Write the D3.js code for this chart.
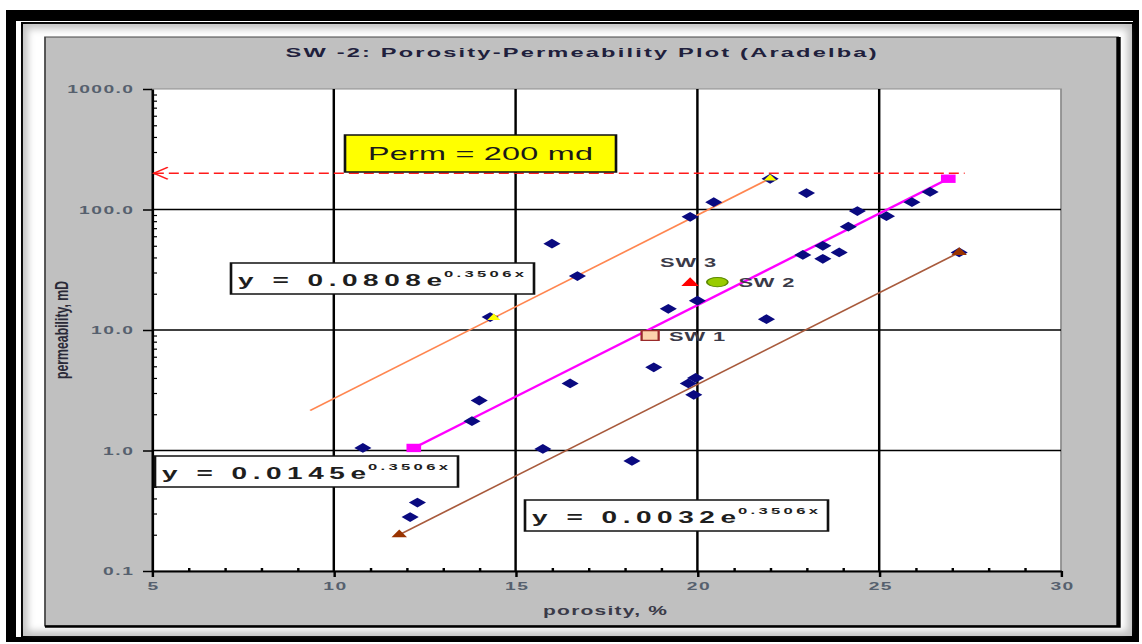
<!DOCTYPE html>
<html>
<head>
<meta charset="utf-8">
<script src="https://cdn.jsdelivr.net/npm/d3@7"></script>
<style>
  html, body { margin: 0; padding: 0; background: #fff; overflow: hidden; }
  svg { display: block; }
  text { font-family: Arial, "Liberation Sans", sans-serif; }
</style>
</head>
<body>
<div id="chart"></div>
<script>
// ---- values ----
const chartTitle = "SW -2: Porosity-Permeability Plot (Aradelba)";
const xTitle = "porosity, %";
const yTitle = "permeability, mD";
const xTicks = [5, 10, 15, 20, 25, 30];
const yTicks = [0.1, 1, 10, 100, 1000];

// core data (blue diamonds)
const porosity = [10.8, 12.1, 12.3, 13.8, 14.0, 14.3, 15.75, 16.0, 16.5, 16.7,
  18.2, 18.8, 19.2, 19.75, 19.8, 19.9, 19.95, 20.0, 20.45, 21.9,
  22.0, 22.9, 23.0, 23.45, 23.45, 23.9, 24.15, 24.4, 25.2, 25.9, 26.4, 27.2];
const permeability = [1.05, 0.28, 0.37, 1.75, 2.6, 12.8, 1.03, 52, 3.6, 28,
  0.82, 4.9, 15, 3.6, 87, 2.9, 4.0, 17.5, 115, 12.3,
  180, 42, 137, 50, 39, 44, 72, 97, 88, 115, 140, 44];

// upper (orange) trend: fitted line and its two yellow points
const upperLineX = [9.35, 22.0];
const upperLineY = [2.15, 181];
const upperPointX = [14.4, 22.0];
const upperPointY = [12.6, 181];
// middle (magenta) line
const midX = [12.2, 26.9];
const midY = [1.05, 180];
// lower (brown) line
const lowX = [11.8, 27.2];
const lowY = [0.2, 44];

const eqCoef = ["0.0808", "0.0145", "0.0032"];
const eqExp = "0.3506x";

// the three wells
const wellNames = ["SW 1", "SW 2", "SW 3"];
const wellX = [18.7, 20.55, 19.8];
const wellY = [9.0, 25, 24.5];

// permeability cut-off
const permCut = 200;
const permLineX = [5.05, 27.35];
const permLabel = "Perm = 200 md";

// ---- layout ----
const W = 1142, H = 644, S = 1.75;   // picture is stretched sideways
const ux = (px) => px / S;

const svg = d3.select("#chart").append("svg")
  .attr("width", W).attr("height", H)
  .attr("viewBox", `0 0 ${W / S} ${H}`)
  .attr("preserveAspectRatio", "none");

const defs = svg.append("defs");
defs.append("filter").attr("id", "soft")
  .append("feGaussianBlur").attr("stdDeviation", "2 3.5");

const box = (x0, y0, x1, y1) => svg.append("rect")
  .attr("x", ux(x0)).attr("y", y0)
  .attr("width", ux(x1 - x0)).attr("height", y1 - y0);

const fit = (sel, w) => sel.attr("textLength", ux(w)).attr("lengthAdjust", "spacing");
const spread = (sel, f) => sel.each(function () {
  d3.select(this).attr("textLength", this.getComputedTextLength() * f)
    .attr("lengthAdjust", "spacing");
});

// frame
box(6, 10, 1139, 642).attr("fill", "#000");
box(16, 21, 1133, 637).attr("fill", "#fff");
box(21, 22, 1133, 637).attr("fill", "#000");
box(23, 24, 1132, 636).attr("fill", "#c4c4c4");
box(28, 29, 1127, 631).attr("fill", "#fff").attr("filter", "url(#soft)");

// chart area
box(45, 37, 1118, 626).attr("fill", "#c0c0c0").attr("stroke", "#444").attr("stroke-width", 1);
svg.append("path")
  .attr("d", `M${ux(1118.5)},37V626.5H${ux(45)}`)
  .attr("fill", "none").attr("stroke", "#000").attr("stroke-width", 2.5);

// plot area
const x = d3.scaleLinear().domain([5, 30]).range([ux(152), ux(1061)]);
const y = d3.scaleLog().domain([0.1, 1000]).range([571, 89]);

svg.append("rect")
  .attr("x", x(5)).attr("y", y(1000))
  .attr("width", x(30) - x(5)).attr("height", y(0.1) - y(1000))
  .attr("fill", "#fff").attr("stroke", "#8c8c8c").attr("stroke-width", 1);

// gridlines
svg.append("g").selectAll("line")
  .data(xTicks.filter((d) => d > 5 && d < 30))
  .join("line")
  .attr("x1", (d) => x(d)).attr("x2", (d) => x(d))
  .attr("y1", y(1000)).attr("y2", y(0.1))
  .attr("stroke", "#000").attr("stroke-width", 1.4);
svg.append("g").selectAll("line")
  .data(yTicks.filter((d) => d > 0.1 && d < 1000))
  .join("line")
  .attr("x1", x(5)).attr("x2", x(30))
  .attr("y1", (d) => y(d)).attr("y2", (d) => y(d))
  .attr("stroke", "#000").attr("stroke-width", 1.6);

// title
fit(svg.append("text")
  .attr("x", ux(581)).attr("y", 57)
  .attr("text-anchor", "middle")
  .attr("font-size", 13.5).attr("font-weight", "bold")
  .attr("fill", "#20203c")
  .text(chartTitle), 591);

// axes
const tickColor = "#56606e";
const yAxis = d3.axisLeft(y).tickValues(yTicks).tickFormat(d3.format(".1f"))
  .tickSize(ux(9)).tickPadding(ux(10)).tickSizeOuter(0);
const gy = svg.append("g").attr("transform", `translate(${x(5)},0)`).call(yAxis);
gy.attr("font-family", null).attr("font-size", 11).attr("font-weight", "bold");
gy.select(".domain").attr("stroke-width", 1.4);
gy.selectAll(".tick line").attr("stroke-width", 1.5);
gy.selectAll(".tick text").attr("fill", tickColor).call(spread, 1.12);

const yMinor = y.ticks().filter((d) => !yTicks.includes(d));
const gy2 = svg.append("g").attr("transform", `translate(${x(5)},0)`)
  .call(d3.axisRight(y).tickValues(yMinor).tickSize(ux(5)).tickFormat(""));
gy2.select(".domain").remove();
gy2.selectAll(".tick line").attr("stroke-width", 1.2);

const xAxis = d3.axisBottom(x).tickValues(xTicks).tickFormat(d3.format("d"))
  .tickSize(6).tickPadding(5).tickSizeOuter(0);
const gx = svg.append("g").attr("transform", `translate(0,${y(0.1)})`).call(xAxis);
gx.attr("font-family", null).attr("font-size", 11).attr("font-weight", "bold");
gx.select(".domain").attr("stroke-width", 2);
gx.selectAll(".tick line").attr("stroke-width", 1.4);
gx.selectAll(".tick text").attr("fill", tickColor).call(spread, 1.07);

const xMinor = x.ticks(25).filter((d) => !xTicks.includes(d));
const gx2 = svg.append("g").attr("transform", `translate(0,${y(0.1)})`)
  .call(d3.axisTop(x).tickValues(xMinor).tickSize(3).tickFormat(""));
gx2.select(".domain").remove();
gx2.selectAll(".tick line").attr("stroke-width", 1.4);

// axis titles
fit(svg.append("text")
  .attr("x", ux(605)).attr("y", 615)
  .attr("text-anchor", "middle")
  .attr("font-size", 12).attr("font-weight", "bold")
  .attr("fill", "#3a3a48")
  .text(xTitle), 124);
svg.append("text")
  .attr("transform", `translate(${ux(68)},${330}) rotate(-90)`)
  .attr("text-anchor", "middle")
  .attr("font-size", 10).attr("font-weight", "bold")
  .attr("fill", "#2a2a38")
  .attr("textLength", 98).attr("lengthAdjust", "spacingAndGlyphs")
  .text(yTitle);

// perm = 200 cut-off
svg.append("line")
  .attr("x1", x(permLineX[0])).attr("x2", x(permLineX[1]))
  .attr("y1", y(permCut)).attr("y2", y(permCut))
  .attr("stroke", "#ff1a1a").attr("stroke-width", 1.5)
  .attr("stroke-dasharray", `${ux(10)},${ux(5)}`);
svg.append("path")
  .attr("d", `M${x(permLineX[0]) + ux(14)},${y(permCut) - 6}L${x(permLineX[0])},${y(permCut)}L${x(permLineX[0]) + ux(14)},${y(permCut) + 6}`)
  .attr("fill", "none").attr("stroke", "#ff1a1a").attr("stroke-width", 1.3);

// trend lines
const line = d3.line().x((d) => x(d[0])).y((d) => y(d[1]));
svg.append("path").datum(d3.zip(upperLineX, upperLineY)).attr("d", line)
  .attr("fill", "none").attr("stroke", "#ff8650").attr("stroke-width", 1.4);
svg.append("path").datum(d3.zip(midX, midY)).attr("d", line)
  .attr("fill", "none").attr("stroke", "#ff00ff").attr("stroke-width", 2);
svg.append("path").datum(d3.zip(lowX, lowY)).attr("d", line)
  .attr("fill", "none").attr("stroke", "#a85a3c").attr("stroke-width", 1.4);

// core points
const diamond = d3.symbol(d3.symbolSquare, 48)();
svg.append("g").selectAll("path")
  .data(d3.zip(porosity, permeability))
  .join("path")
  .attr("d", diamond)
  .attr("transform", (d) => `translate(${x(d[0])},${y(d[1])}) rotate(45)`)
  .attr("fill", "#0a0a80");

// series end markers
svg.append("g").selectAll("path")
  .data(d3.zip(upperPointX, upperPointY))
  .join("path")
  .attr("d", d3.symbol(d3.symbolTriangle, 24)())
  .attr("transform", (d) => `translate(${x(d[0])},${y(d[1])})`)
  .attr("fill", "#ffff00");
svg.append("g").selectAll("path")
  .data(d3.zip(midX, midY))
  .join("path")
  .attr("d", d3.symbol(d3.symbolSquare, 70)())
  .attr("transform", (d) => `translate(${x(d[0])},${y(d[1])})`)
  .attr("fill", "#ff00ff");
svg.append("g").selectAll("path")
  .data(d3.zip(lowX, lowY))
  .join("path")
  .attr("d", d3.symbol(d3.symbolTriangle, 34)())
  .attr("transform", (d) => `translate(${x(d[0])},${y(d[1])})`)
  .attr("fill", "#993300");

// wells
const wells = d3.zip(wellNames, wellX, wellY);
svg.append("path")
  .attr("d", d3.symbol(d3.symbolSquare, 95)())
  .attr("transform", `translate(${x(wellX[0])},${y(wellY[0])})`)
  .attr("fill", "#fcd3ac").attr("stroke", "#9a2a2a").attr("stroke-width", 1.3);
svg.append("ellipse")
  .attr("cx", x(wellX[1])).attr("cy", y(wellY[1]))
  .attr("rx", 6).attr("ry", 4.6)
  .attr("fill", "#99cc00").attr("stroke", "#5c8a00").attr("stroke-width", 1);
svg.append("path")
  .attr("d", d3.symbol(d3.symbolTriangle, 44)())
  .attr("transform", `translate(${x(wellX[2])},${y(wellY[2])})`)
  .attr("fill", "#ff0000");

const labelDx = [19, 21, -2], labelDy = [5, 5, -16];
svg.append("g").selectAll("text")
  .data(wells)
  .join("text")
  .attr("x", (d, i) => x(d[1]) + ux(labelDx[i]))
  .attr("y", (d, i) => y(d[2]) + labelDy[i])
  .attr("text-anchor", (d, i) => (i === 2 ? "middle" : "start"))
  .attr("font-size", 12.5).attr("font-weight", "bold")
  .attr("fill", "#3a3a48")
  .text((d) => d[0])
  .call(spread, 1.05);

// equation boxes
const eqBoxes = [[231, 263], [155, 456], [525, 500]];
eqBoxes.forEach(([bx, by], i) => {
  box(bx, by, bx + 303, by + 31)
    .attr("fill", "#fff").attr("stroke", "#111").attr("stroke-width", 1.5);
  fit(svg.append("text")
    .attr("x", ux(bx + 7)).attr("y", by + 23)
    .attr("font-size", 16).attr("font-weight", "bold")
    .attr("fill", "#1e1e1e")
    .text(`y = ${eqCoef[i]}e`), 204);
  fit(svg.append("text")
    .attr("x", ux(bx + 213)).attr("y", by + 14)
    .attr("font-size", 9.5).attr("font-weight", "bold")
    .attr("fill", "#1e1e1e")
    .text(eqExp), 80);
});

// perm label
box(345, 135, 616, 172)
  .attr("fill", "#ffff00").attr("stroke", "#111").attr("stroke-width", 1.5);
fit(svg.append("text")
  .attr("x", ux(480.5)).attr("y", 160)
  .attr("text-anchor", "middle")
  .attr("font-size", 18.5)
  .attr("fill", "#1a1a1a")
  .text(permLabel), 225);
</script>
</body>
</html>
